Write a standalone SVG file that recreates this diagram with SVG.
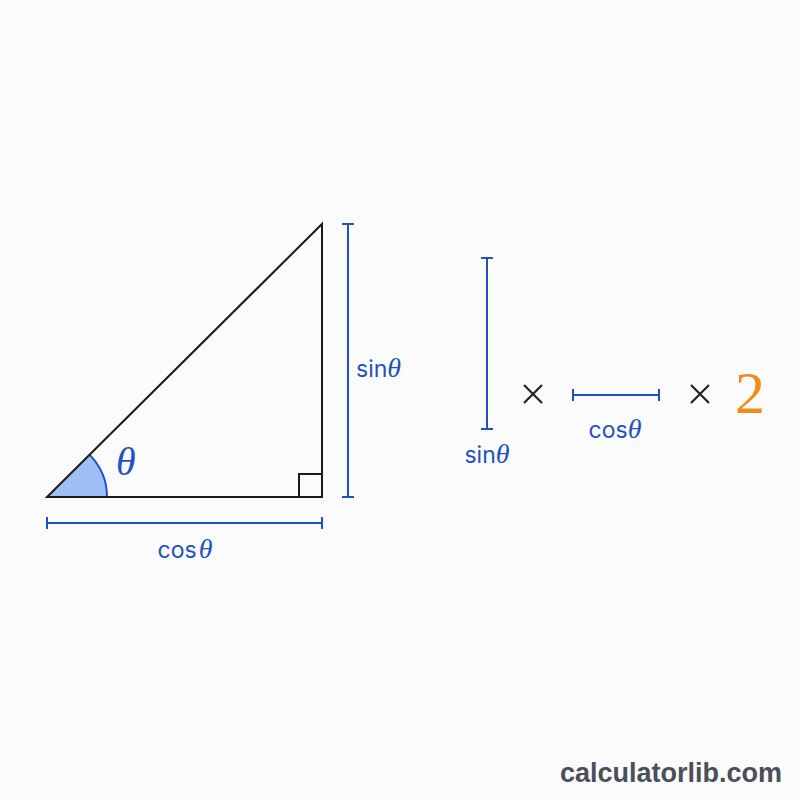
<svg xmlns="http://www.w3.org/2000/svg" width="800" height="800" viewBox="0 0 800 800">
<style>
.blk{stroke:#1a1a1a;stroke-width:2;fill:none}
.dim{stroke:#1f52c0;stroke-width:2;fill:none}
.lbl{font-family:Inter,"Liberation Sans",sans-serif;font-size:23px;fill:#1f52c0}
.th{font-family:"Liberation Serif",serif;font-style:italic}
.op{stroke:#222;stroke-width:2.2;fill:none}
</style>
<rect width="800" height="800" fill="#fbfbfc"/>
<g id="triangle">
<path d="M47,497 L107,497 A60,60 0 0 0 89.4,454.6 Z" fill="#9dbff5" stroke="none"/>
<path d="M107,497 A60,60 0 0 0 89.4,454.6" class="dim"/>
<path d="M47,497 L322,497 L322,224 Z" class="blk"/>
<path d="M299,497 V474 H322" class="blk" stroke-width="1.5"/>
<text x="116" y="475" font-family="Liberation Serif,serif" font-style="italic" font-size="40" fill="#1f52c0">θ</text>
</g>
<g id="connectors">
<path d="M47,523 H322 M47,517 V529 M322,517 V529" class="dim"/>
<path d="M348,224 V497 M342,224 H354 M342,497 H354" class="dim"/>
<path d="M487,258 V429 M481,258 H493 M481,429 H493" class="dim"/>
<path d="M573,395 H659 M573,389 V401 M659,389 V401" class="dim"/>
</g>
<g id="labels">
<text x="185" y="558" text-anchor="middle" class="lbl">cos<tspan class="th" font-size="28" dx="2">θ</tspan></text>
<text x="356" y="377" class="lbl">sin<tspan class="th" font-size="28">θ</tspan></text>
<text x="487" y="463" text-anchor="middle" class="lbl">sin<tspan class="th" font-size="28">θ</tspan></text>
<text x="615" y="438" text-anchor="middle" class="lbl">cos<tspan class="th" font-size="28">θ</tspan></text>
</g>
<g id="ops">
<path d="M524,385 L542,403 M542,385 L524,403" class="op"/>
<path d="M691,385 L709,403 M709,385 L691,403" class="op"/>
<text x="750" y="413" text-anchor="middle" font-family="Liberation Serif,serif" font-size="60" fill="#f28a1e">2</text>
</g>
<text x="671" y="782" text-anchor="middle" font-family="Liberation Sans,Arial,sans-serif" font-weight="bold" font-size="27" fill="#4a4f5a">calculatorlib.com</text>
</svg>
